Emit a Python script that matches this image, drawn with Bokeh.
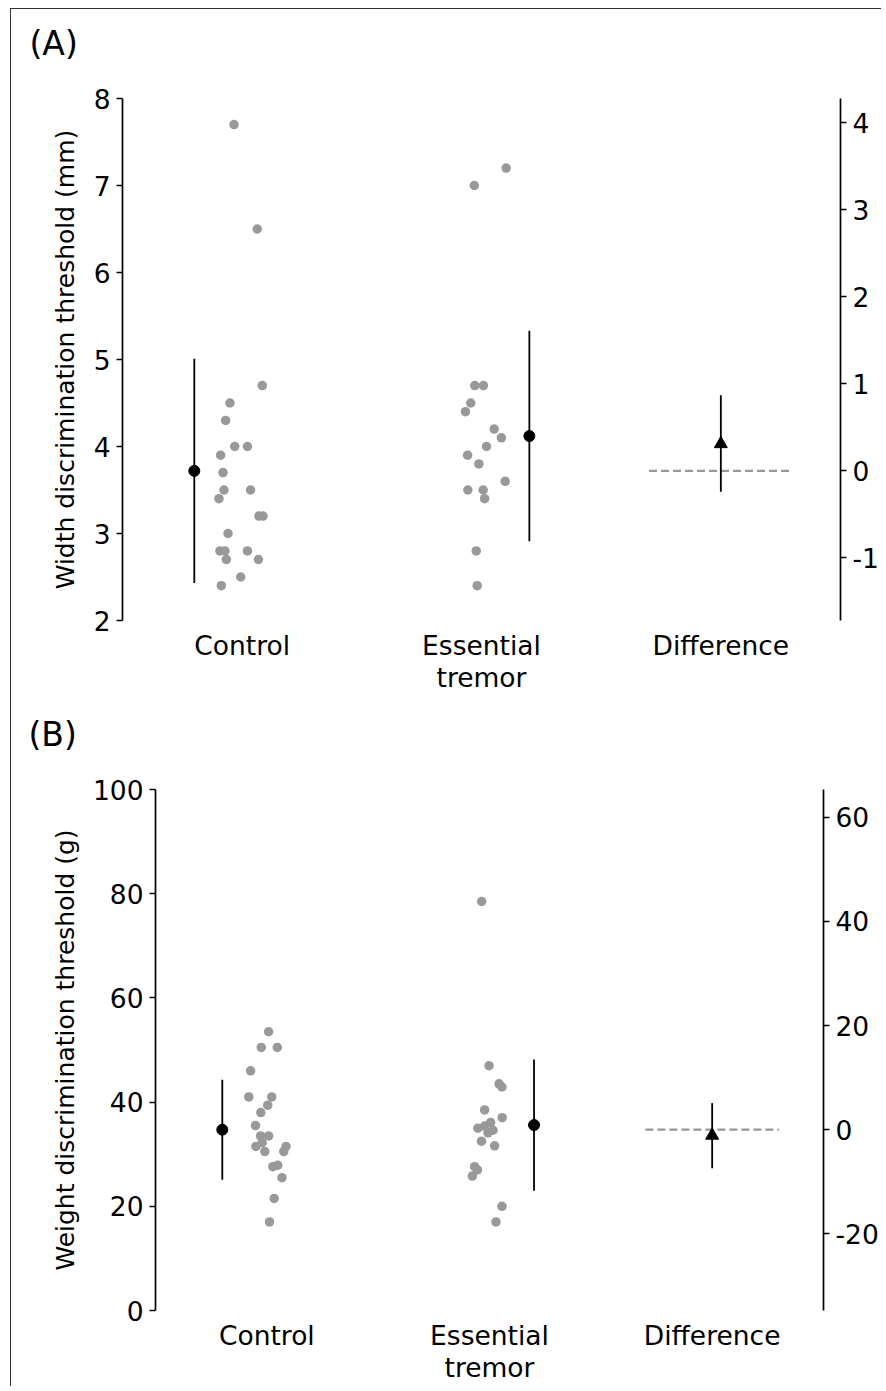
from bokeh.plotting import figure
from bokeh.models import Range1d, LinearAxis, FixedTicker, Title
from bokeh.embed import file_html
from bokeh.resources import INLINE

# ---------------- data ----------------
categories = ["Control", "Essential\ntremor", "Difference"]
cat_pos = [0, 1, 2]

# Panel A: width discrimination threshold (mm)
a_control = [7.7, 6.5, 4.7, 4.5, 4.3, 4.0, 4.0, 3.9, 3.7, 3.5, 3.5, 3.4, 3.2, 3.2,
             3.0, 2.8, 2.8, 2.8, 2.7, 2.7, 2.5, 2.4]
a_control_jit = [-0.034, 0.063, 0.084, -0.051, -0.069, -0.031, 0.022, -0.090, -0.080,
                 -0.076, 0.035, -0.097, 0.070, 0.087, -0.059, -0.093, -0.072, 0.022,
                 -0.066, 0.068, -0.006, -0.087]
a_et = [7.2, 7.0, 4.7, 4.7, 4.5, 4.4, 4.2, 4.1, 4.0, 3.9, 3.8, 3.6, 3.5, 3.5, 3.4, 2.8, 2.4]
a_et_jit = [0.103, -0.030, -0.028, 0.008, -0.045, -0.067, 0.053, 0.083, 0.021, -0.058,
            -0.011, 0.099, -0.057, 0.007, 0.013, -0.022, -0.018]
a_means = [3.72, 4.12]
a_sds = [1.29, 1.21]
a_diff = 0.31
a_diff_ci = [-0.24, 0.87]
a_left_ticks = [2, 3, 4, 5, 6, 7, 8]
a_right_ticks = [-1, 0, 1, 2, 3, 4]

# Panel B: weight discrimination threshold (g)
b_control = [53.5, 50.5, 50.5, 46.0, 41.0, 41.0, 39.4, 38.0, 35.5, 33.5, 33.5, 32.2,
             31.5, 30.5, 31.5, 30.5, 27.6, 27.9, 25.5, 21.5, 17.0]
b_control_jit = [0.008, -0.025, 0.047, -0.073, -0.081, 0.022, 0.004, -0.027, -0.051,
                 -0.028, 0.008, -0.021, -0.049, -0.009, 0.086, 0.076, 0.027, 0.049,
                 0.068, 0.033, 0.012]
b_et = [78.5, 47.0, 43.5, 42.9, 38.5, 37.0, 36.1, 35.4, 35.0, 34.6, 34.1, 32.5, 31.6,
        27.6, 27.0, 25.8, 20.0, 17.0]
b_et_jit = [-0.035, -0.002, 0.043, 0.056, -0.022, 0.057, 0.005, -0.022, -0.052, 0.016,
            -0.007, -0.036, 0.023, -0.067, -0.054, -0.077, 0.056, 0.029]
b_means = [34.7, 35.6]
b_sds = [9.6, 12.6]
b_diff = -1.1
b_diff_ci = [-7.4, 5.1]
b_left_ticks = [0, 20, 40, 60, 80, 100]
b_right_ticks = [-20, 0, 20, 40, 60]

FONT = "DejaVu Sans"
GRAY = "#999999"
TICK_FS = "26.5px"


def make_panel(tag, ylabel, yr, groups, jits, means, sds, diff, diff_ci,
               left_ticks, right_ticks, fw, fh, bl, bt, bb, title_offset,
               title_gap, ylabel_standoff, styles):
    p = figure(frame_width=fw, frame_height=fh, x_range=Range1d(-0.5, 2.5),
               y_range=Range1d(*yr), output_backend="svg", toolbar_location=None,
               min_border_left=bl, min_border_top=bt, min_border_bottom=bb,
               min_border_right=20, styles=styles)
    p.outline_line_color = None
    p.grid.visible = False
    p.background_fill_color = "white"
    p.border_fill_color = "white"

    # spacer next to the frame, then the panel tag above it
    p.add_layout(Title(text=" ", text_font_size="1px", standoff=title_gap), "above")
    p.add_layout(Title(text=tag, text_font=FONT, text_font_size="33px",
                       text_font_style="normal", text_color="black", align="left",
                       offset=title_offset, standoff=0), "above")

    # x axis: labels only
    xa = p.xaxis[0]
    xa.ticker = FixedTicker(ticks=cat_pos)
    xa.major_label_overrides = {c: t for c, t in zip(cat_pos, categories)}
    xa.axis_line_color = None
    xa.major_tick_line_color = None
    xa.minor_tick_line_color = None
    xa.major_label_text_font = FONT
    xa.major_label_text_font_size = TICK_FS
    xa.major_label_text_color = "black"
    xa.major_label_text_line_height = 1.05
    xa.major_label_standoff = 3

    ya = p.yaxis[0]
    ya.ticker = FixedTicker(ticks=left_ticks)
    ya.axis_label = ylabel
    ya.axis_label_text_font = FONT
    ya.axis_label_text_font_size = "25px"
    ya.axis_label_text_font_style = "normal"
    ya.axis_label_text_color = "black"
    ya.axis_label_standoff = ylabel_standoff
    ya.major_label_text_font = FONT
    ya.major_label_text_font_size = TICK_FS
    ya.major_label_text_color = "black"
    ya.major_label_standoff = 6
    ya.major_tick_out = 6
    ya.major_tick_in = 0
    ya.minor_tick_line_color = None
    ya.axis_line_width = 1.7
    ya.major_tick_line_width = 1.5

    # right axis: difference scale anchored at control mean
    p.extra_y_ranges = {"diff": Range1d(yr[0] - means[0], yr[1] - means[0])}
    ra = LinearAxis(y_range_name="diff", ticker=FixedTicker(ticks=right_ticks))
    ra.major_label_overrides = {t: str(t) for t in right_ticks}
    ra.major_label_text_font = FONT
    ra.major_label_text_font_size = TICK_FS
    ra.major_label_text_color = "black"
    ra.major_label_standoff = 6
    ra.major_tick_out = 6
    ra.major_tick_in = 0
    ra.minor_tick_line_color = None
    ra.axis_line_width = 1.7
    ra.major_tick_line_width = 1.5
    p.add_layout(ra, "right")

    # raw points
    for pos, vals, jit in zip(cat_pos[:2], groups, jits):
        p.scatter([pos + j for j in jit], vals, size=9.5, color=GRAY, line_color=None)

    # mean +- SD
    offs = [-0.2, 0.2]
    for pos, off, m, s in zip(cat_pos[:2], offs, means, sds):
        p.segment([pos + off], [m - s], [pos + off], [m + s], line_color="black",
                  line_width=1.8)
        p.scatter([pos + off], [m], size=11, color="black")

    # difference
    p.segment([cat_pos[2] - 0.3], [0], [cat_pos[2] + 0.3], [0], y_range_name="diff",
              line_color=GRAY, line_width=2.2, line_dash="8 4")
    p.segment([cat_pos[2]], [diff_ci[0]], [cat_pos[2]], [diff_ci[1]], y_range_name="diff",
              line_color="black", line_width=1.8)
    p.scatter([cat_pos[2]], [diff], marker="triangle", size=13, color="black",
              y_range_name="diff")
    return p


pA = make_panel("(A)", "Width discrimination threshold (mm)", (2, 8),
                [a_control, a_et], [a_control_jit, a_et_jit], a_means, a_sds,
                a_diff, a_diff_ci, a_left_ticks, a_right_ticks,
                fw=718, fh=522, bl=111, bt=89, bb=72, title_offset=-93,
                title_gap=33, ylabel_standoff=11,
                styles={"margin-left": "10px", "margin-top": "8px",
                        "border-left": "1px solid #333", "border-top": "1px solid #333"})
pB = make_panel("(B)", "Weight discrimination threshold (g)", (0, 100),
                [b_control, b_et], [b_control_jit, b_et_jit], b_means, b_sds,
                b_diff, b_diff_ci, b_left_ticks, b_right_ticks,
                fw=668, fh=521, bl=144, bt=93, bb=70, title_offset=-127,
                title_gap=33, ylabel_standoff=10,
                styles={"margin-left": "10px", "border-left": "1px solid #333"})

open("out.html", "w").write(file_html([pA, pB], INLINE))
